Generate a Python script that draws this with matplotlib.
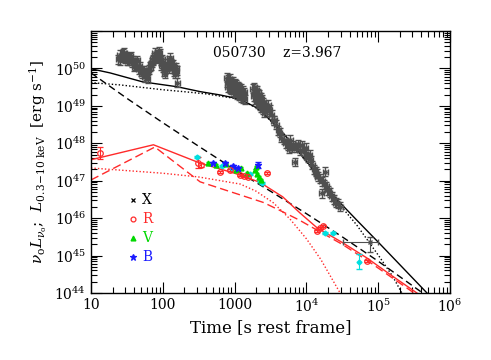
import numpy as np
import matplotlib
matplotlib.use('Agg')
import matplotlib.pyplot as plt
from matplotlib.ticker import LogLocator, NullFormatter, FixedLocator, FixedFormatter

# ---- data (time in s, luminosity as log10 erg/s) ----
# X-ray light curve (grey crosses)
xray_t = [24, 25, 27, 28, 30, 31, 33, 35, 37, 39, 41, 43, 46, 48, 51, 53, 56, 59,
          61, 64, 67, 70, 73, 76, 79, 82, 86, 90, 93, 97, 101, 105, 109, 113, 118,
          123, 128, 133, 138, 144, 150, 156, 158,
          25.5, 29, 32, 36, 40, 44, 49, 55, 62, 68, 72, 77, 84, 88, 95, 99, 107,
          116, 121, 126, 131, 140, 147, 153,
          780, 820, 860, 900, 950, 1000, 1050, 1100, 1160, 1220, 1290, 1360,
          800, 850, 900, 960, 1020, 1080, 1150, 1220, 1300, 1380,
          790, 880, 980, 1080, 1200, 1320,
          1800, 1880, 1960, 2040, 2120, 2200, 2300, 2400, 2500, 2600,
          1850, 1950, 2050, 2150, 2250, 2350, 2450, 2580,
          1900, 2100, 2300, 2500,
          2920, 3310, 3780, 4270, 4900, 5500, 6300, 7150, 8130, 9250, 10500,
          12000, 13500, 15500, 17600, 20000, 22700, 25800, 29400,
          3100, 3550, 4050, 6000, 7600, 9800, 11200, 6900, 18200, 16400, 14500,
          3000, 3500, 4500, 5200, 5800, 6600, 8600, 10000, 11500, 12800, 14000,
          16500, 19000, 21000, 24000, 27500]
xray_logL = [50.25, 50.36, 50.30, 50.40, 50.26, 50.33, 50.22, 50.30, 50.15, 50.22,
             50.08, 50.16, 49.98, 50.06, 49.86, 49.94, 49.76, 49.82, 49.88, 49.97,
             50.05, 50.15, 50.20, 50.30, 50.28, 50.38, 50.32, 50.40, 50.22, 50.14,
             50.02, 49.92, 49.98, 50.06, 50.12, 50.22, 50.16, 50.08, 50.00, 49.92,
             49.86, 49.94, 49.62,
             50.22, 50.42, 50.20, 50.32, 50.05, 50.22, 49.92, 49.95, 49.72, 50.08,
             50.25, 50.42, 50.26, 50.45, 50.08, 50.25, 49.86, 50.12, 50.00, 50.28,
             50.12, 50.10, 49.96, 50.02,
             49.75, 49.70, 49.72, 49.66, 49.64, 49.60, 49.58, 49.52, 49.50, 49.45, 49.40, 49.36,
             49.50, 49.46, 49.44, 49.38, 49.36, 49.30, 49.28, 49.22, 49.20, 49.18,
             49.62, 49.55, 49.48, 49.42, 49.32, 49.28,
             49.45, 49.50, 49.40, 49.42, 49.34, 49.30, 49.22, 49.18, 49.10, 49.02,
             49.25, 49.18, 49.12, 49.06, 49.00, 48.96, 48.90, 48.82,
             49.32, 49.20, 49.08, 48.98,
             49.03, 48.76, 48.49, 48.28, 48.09, 47.93, 47.88, 47.90, 47.82, 47.77, 47.61,
             47.42, 47.24, 47.07, 46.91, 46.75, 46.59, 46.41, 46.30,
             48.90, 48.62, 48.35, 48.10, 47.98, 47.88, 47.70, 47.50, 47.24, 46.67, 47.10,
             48.85, 48.60, 48.15, 48.00, 47.85, 47.95, 47.95, 47.70, 47.55, 47.30, 47.18,
             46.98, 46.85, 46.68, 46.50, 46.38]
xray_dex_t = 0.035  # half width of time bins (dex)
xray_dex_L = 0.12   # half error on luminosity (dex)

# late X-ray point with wide time bin
late_t, late_t_lo, late_t_hi = 76900, 32400, 99800
late_logL, late_logL_lo, late_logL_hi = 45.36, 45.10, 45.50

# optical bands
R_t = [13.3, 309, 340, 627, 866, 1190, 1350, 1540, 2820, 14100, 15500, 17000, 69500]
R_logL = [47.74, 47.48, 47.42, 47.24, 47.29, 47.16, 47.13, 47.10, 47.21, 45.66, 45.74, 45.79, 44.86]
R_err = [0.15, 0.15, 0.05, 0.03, 0.03, 0.03, 0.03, 0.03, 0.03, 0.03, 0.03, 0.03, 0.03]

V_t = [427, 550, 757, 1050, 1230, 1490, 1920, 2050, 2180, 2340, 1990]
V_logL = [47.48, 47.42, 47.45, 47.29, 47.34, 47.21, 47.29, 47.18, 47.10, 47.02, 47.37]

B_t = [500, 740, 955, 1120, 2130]
B_logL = [47.48, 47.48, 47.40, 47.34, 47.42]
B_err = [0.03, 0.03, 0.03, 0.03, 0.08]

U_t = [300, 660, 910, 1630, 2230, 2400, 18200, 23600, 54000]
U_logL = [47.64, 47.40, 47.34, 47.18, 47.00, 46.94, 45.60, 45.60, 44.83]
U_err = [0.03, 0.03, 0.03, 0.03, 0.03, 0.03, 0.03, 0.03, 0.20]

# model curves (log t, log L)
xsol_logt = [1.0, 1.265, 1.72, 2.2, 2.52, 2.8, 3.0, 3.14, 3.3, 3.4, 3.55, 3.70,
             3.85, 4.02, 4.26, 4.43, 4.7, 5.0, 5.3, 5.68]
xsol_logL = [49.99, 49.88, 49.64, 49.51, 49.38, 49.29, 49.21, 49.11, 48.96, 48.80,
             48.52, 48.22, 47.86, 47.48, 46.89, 46.49, 45.95, 45.36, 44.76, 44.0]
xdot_logt = [1.0, 1.4, 2.0, 2.34, 2.6, 3.0, 3.14, 3.3, 3.4, 3.55, 3.70, 3.85, 4.02,
             4.26, 4.43, 4.7, 5.02, 5.2, 5.33]
xdot_logL = [49.62, 49.56, 49.43, 49.37, 49.32, 49.20, 49.10, 48.95, 48.79, 48.51,
             48.21, 47.85, 47.46, 46.86, 46.44, 45.82, 44.96, 44.45, 44.0]
xdash_logt = [1.0, 1.5, 2.0, 2.5, 3.0, 3.5, 4.0, 4.5, 5.0, 5.62]
xdash_logL = [49.88, 49.2, 48.55, 47.92, 47.3, 46.72, 46.12, 45.5, 44.85, 44.0]

rsol_logt = [1.0, 1.87, 2.52, 3.0, 3.35, 3.67, 3.91, 4.15, 4.5, 4.84, 5.2, 5.54]
rsol_logL = [47.56, 47.96, 47.47, 47.2, 46.96, 46.57, 46.14, 45.74, 45.35, 44.94, 44.45, 44.0]
rdash_logt = [1.0, 1.89, 2.52, 3.08, 3.4, 3.67, 3.9, 4.15, 4.5, 4.84, 5.2, 5.5]
rdash_logL = [47.02, 47.9, 46.97, 46.62, 46.42, 46.17, 45.95, 45.68, 45.3, 44.88, 44.4, 44.0]
rdot_logt = [1.0, 2.0, 2.5, 3.08, 3.3, 3.54, 3.77, 4.0, 4.2, 4.47]
rdot_logL = [47.34, 47.2, 47.1, 46.91, 46.72, 46.41, 45.98, 45.45, 44.9, 44.0]

# ---- plotting ----
plt.rcParams['font.family'] = ['DejaVu Serif']
plt.rcParams['mathtext.fontset'] = 'dejavuserif'

fig = plt.figure(figsize=(4.91, 3.6), dpi=100)
ax = fig.add_axes([0.1853, 0.186, 0.7312, 0.728])
ax.set_xscale('log')
ax.set_yscale('log')


def lin(v):
    return 10 ** np.asarray(v, dtype=float)


def asym(logv, dex):
    v = lin(logv)
    d = np.broadcast_to(np.asarray(dex, dtype=float), v.shape)
    return v, [v - v * 10 ** -d, v * 10 ** d - v]


grey = '#4f4f4f'
red = '#ff2a2a'
green = '#00d800'
blue = '#1a1aff'
cyan = '#00e0e0'

# model lines
ax.plot(lin(xsol_logt), lin(xsol_logL), color='black', lw=1.0)
ax.plot(lin(xdot_logt), lin(xdot_logL), color='black', lw=1.0, ls=(0, (1, 1.5)))
ax.plot(lin(xdash_logt), lin(xdash_logL), color='black', lw=1.0, ls=(0, (5, 3)))
ax.plot(lin(rsol_logt), lin(rsol_logL), color=red, lw=1.0)
ax.plot(lin(rdash_logt), lin(rdash_logL), color=red, lw=1.0, ls=(0, (6, 3)))
ax.plot(lin(rdot_logt), lin(rdot_logL), color=red, lw=1.0, ls=(0, (1, 1.5)))

# X-ray data
t = np.asarray(xray_t, dtype=float)
xt = [t - t * 10 ** -xray_dex_t, t * 10 ** xray_dex_t - t]
L, yl = asym(xray_logL, xray_dex_L)
ax.errorbar(t, L, xerr=xt, yerr=yl, fmt='x', ms=3.5, mew=1.0, color=grey,
            ecolor=grey, elinewidth=1.0, capsize=2)
Ll = 10 ** late_logL
ax.errorbar([late_t], [Ll], xerr=[[late_t - late_t_lo], [late_t_hi - late_t]],
            yerr=[[Ll - 10 ** late_logL_lo], [10 ** late_logL_hi - Ll]],
            fmt='x', ms=3, color=grey, elinewidth=0.8, capsize=2)

# optical data
L, yl = asym(U_logL, U_err)
ax.errorbar(U_t, L, yerr=yl, fmt='D', ms=2.5, color=cyan, elinewidth=0.8, capsize=2)
L, yl = asym(V_logL, 0.03)
ax.errorbar(V_t, L, yerr=yl, fmt='^', ms=3.5, color=green, elinewidth=0.8, capsize=1.5)
L, yl = asym(B_logL, B_err)
ax.errorbar(B_t, L, yerr=yl, fmt='*', ms=4.5, color=blue, elinewidth=0.8, capsize=2)
L, yl = asym(R_logL, R_err)
ax.errorbar(R_t, L, yerr=yl, fmt='o', ms=4, mfc='none', mec=red, mew=0.9,
            color=red, elinewidth=0.8, capsize=2)

# axes
ax.set_xlim(10, 1e6)
ax.set_ylim(1e44, 1e51)
ax.xaxis.set_major_locator(FixedLocator([10, 100, 1000, 1e4, 1e5, 1e6]))
ax.xaxis.set_major_formatter(FixedFormatter(['10', '100', '1000', r'$10^4$', r'$10^5$', r'$10^6$']))
ax.xaxis.set_minor_locator(LogLocator(base=10, subs=np.arange(2, 10), numticks=20))
ax.xaxis.set_minor_formatter(NullFormatter())
ax.yaxis.set_major_locator(FixedLocator([1e44, 1e45, 1e46, 1e47, 1e48, 1e49, 1e50, 1e51]))
ax.yaxis.set_major_formatter(FixedFormatter([r'$10^{44}$', r'$10^{45}$', r'$10^{46}$', r'$10^{47}$',
                                             r'$10^{48}$', r'$10^{49}$', r'$10^{50}$', '']))
ax.yaxis.set_minor_locator(LogLocator(base=10, subs=np.arange(2, 10), numticks=20))
ax.yaxis.set_minor_formatter(NullFormatter())
ax.tick_params(which='both', direction='in', top=True, right=True, labelsize=10, width=0.8)
ax.tick_params(which='major', length=8)
ax.tick_params(which='minor', length=4)
for s in ax.spines.values():
    s.set_linewidth(1.0)

ax.set_xlabel('Time [s rest frame]', fontsize=12, labelpad=3)
ax.set_ylabel(r'$\nu_{\rm o}L_{\nu_{\rm o}}$;  $L_{\rm 0.3\!-\!10\ keV}$  [erg s$^{-1}$]',
              fontsize=11, labelpad=4)

ax.text(0.518, 0.915, '050730    z=3.967', transform=ax.transAxes, ha='center',
        va='center', fontsize=10)

# legend by hand
leg = [('x', 'X', 'black', 'black', 0.355, 3),
       ('o', 'R', red, 'none', 0.282, 3.5),
       ('^', 'V', green, green, 0.210, 3.5),
       ('*', 'B', blue, blue, 0.137, 4.5)]
for m, lab, c, fc, yy, ms in leg:
    ax.plot([0.117], [yy], marker=m, ms=ms, color=c, mfc=fc, mew=0.9,
            transform=ax.transAxes, ls='none')
    ax.text(0.142, yy, lab, color=c, transform=ax.transAxes, va='center',
            ha='left', fontsize=10)

fig.savefig('out.png', dpi=100)
